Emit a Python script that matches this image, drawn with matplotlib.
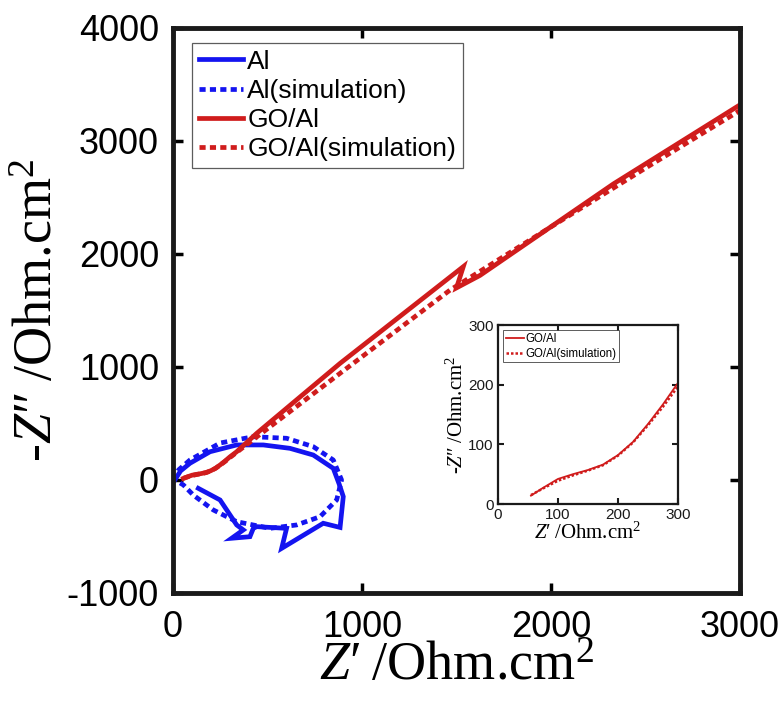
import matplotlib
matplotlib.use("Agg")
import matplotlib.pyplot as plt

# Nyquist data (Z' , -Z'' in Ohm.cm2)
al_x = [10, 40, 90, 196, 337, 478, 619, 742, 848, 880, 901, 884, 795, 575, 601, 443, 425, 407, 310, 372, 337, 249, 134]
al_y = [0, 80, 148, 250, 310, 310, 280, 221, 103, -40, -147, -420, -383, -605, -428, -413, -428, -502, -516, -442, -398, -177, -74]

al_sim_x = [0, 30, 90, 249, 425, 601, 742, 848, 892, 866, 778, 654, 513, 337, 213, 107, 55, 20]
al_sim_y = [0, 90, 177, 327, 383, 369, 295, 177, 0, -177, -325, -398, -428, -369, -265, -133, -44, -10]

go_x = [55, 75, 100, 125, 150, 175, 200, 225, 250, 275, 300, 337, 443, 884, 1536, 1500, 1624, 2330, 3000]
go_y = [14, 27, 42, 50, 57, 66, 82, 104, 134, 167, 203, 250, 413, 1032, 1888, 1700, 1810, 2620, 3320]

go_sim_x = [55, 75, 100, 125, 150, 175, 200, 225, 250, 275, 300, 450, 884, 1466, 2000, 2500, 3000]
go_sim_y = [15, 26, 39, 48, 56, 65, 81, 103, 132, 163, 197, 390, 944, 1681, 2240, 2760, 3270]

labels = ["Al", "Al(simulation)", "GO/Al", "GO/Al(simulation)"]
main_xticks = [0, 1000, 2000, 3000]
main_yticks = [-1000, 0, 1000, 2000, 3000, 4000]
inset_ticks = [0, 100, 200, 300]

blue = "#1414f0"
red = "#d01c1c"

plt.rcParams["font.family"] = ["Liberation Sans", "DejaVu Sans"]
plt.rcParams["axes.unicode_minus"] = False
plt.rcParams["mathtext.fontset"] = "custom"
plt.rcParams["mathtext.rm"] = "Liberation Serif"
plt.rcParams["mathtext.it"] = "Liberation Serif:italic"

serif = ["Liberation Serif", "DejaVu Serif"]
xlabel = "$Z$\u2032\u2009/Ohm.cm$^{2}$"
ylabel = "-$Z$\u2033\u2009/Ohm.cm$^{2}$"

fig = plt.figure(figsize=(7.81, 7.05), dpi=100)

#Main Nyquist plot
ax = fig.add_axes([0.2215, 0.1589, 0.726, 0.8014])
dots = (1.3, 0.9)
ax.plot(al_x, al_y, color=blue, lw=3.4, solid_joinstyle="miter", label=labels[0])
ax.plot(al_sim_x, al_sim_y, color=blue, lw=3.4, dashes=dots, dash_capstyle="butt", label=labels[1])
ax.plot(go_x, go_y, color=red, lw=3.4, solid_joinstyle="miter", label=labels[2])
ax.plot(go_sim_x, go_sim_y, color=red, lw=3.4, dashes=dots, dash_capstyle="butt", label=labels[3])

ax.set_xlim(0, 3000)
ax.set_ylim(-1000, 4000)
ax.set_xticks(main_xticks)
ax.set_yticks(main_yticks)
ax.tick_params(direction="in", length=7, width=2.5, labelsize=26, top=True, right=True)
ax.tick_params(axis="x", pad=12)
ax.tick_params(axis="y", pad=10)
for sp in ax.spines.values():
    sp.set_linewidth(3.5)
    sp.set_color("#1a1a1a")

ax.set_xlabel(xlabel, fontsize=39, family=serif, labelpad=-2)
ax.set_ylabel(ylabel, fontsize=39, family=serif, labelpad=2)

leg = ax.legend(loc="upper left", bbox_to_anchor=(0.2458, 0.939), bbox_transform=fig.transFigure,
                fontsize=19, frameon=True, fancybox=False, handlelength=1.7, handletextpad=0.15,
                labelspacing=0.2, borderpad=0.25, borderaxespad=0)
leg.get_frame().set_edgecolor("#333333")
leg.get_frame().set_linewidth(0.9)

#Inset zoom on GO/Al at high frequency
ins = fig.add_axes([0.6376, 0.2851, 0.2305, 0.2539])
ins.plot(go_x, go_y, color=red, lw=1.3, label=labels[2])
ins.plot(go_sim_x, go_sim_y, color=red, lw=1.8, dashes=(1.0, 0.8), dash_capstyle="butt", label=labels[3])
ins.set_xlim(0, 300)
ins.set_ylim(0, 300)
ins.set_xticks(inset_ticks)
ins.set_yticks(inset_ticks)
ins.tick_params(direction="in", length=4, width=1.5, labelsize=11, top=True, right=True, pad=3, colors="#1a1a1a")
for sp in ins.spines.values():
    sp.set_linewidth(1.6)
    sp.set_color("#1a1a1a")
ins.set_xlabel(xlabel, fontsize=15, family=serif, labelpad=0)
ins.set_ylabel(ylabel, fontsize=15, family=serif, labelpad=0)

ileg = ins.legend(loc="upper left", bbox_to_anchor=(0.03, 0.97), fontsize=8.3, frameon=True, fancybox=False,
                  handlelength=1.6, handletextpad=0.1, labelspacing=0.3, borderpad=0.2, borderaxespad=0)
ileg.get_frame().set_edgecolor("#333333")
ileg.get_frame().set_linewidth(0.7)

fig.savefig("out.png", dpi=100)
